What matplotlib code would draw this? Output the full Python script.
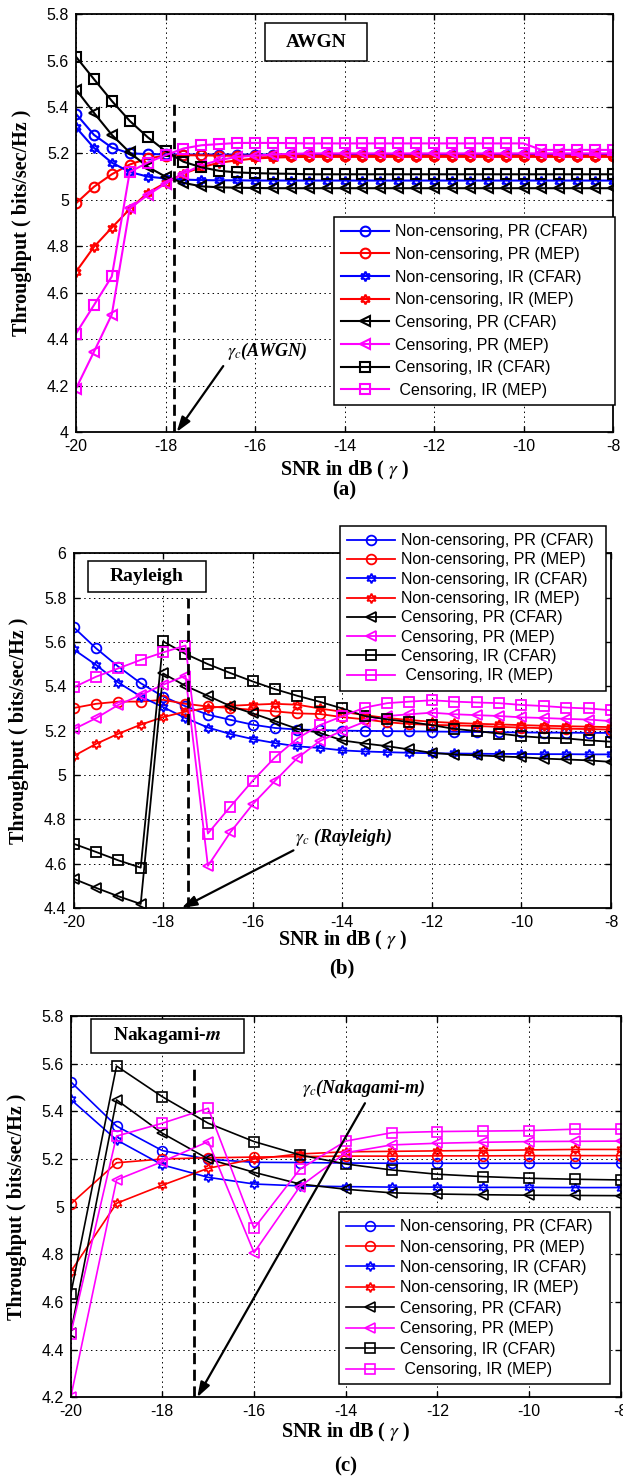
import numpy as np
import matplotlib
matplotlib.use('Agg')
import matplotlib.pyplot as plt
from matplotlib.patches import Rectangle
from matplotlib.ticker import FuncFormatter, MultipleLocator

plt.rcParams['font.family'] = ['Liberation Sans', 'DejaVu Sans']
plt.rcParams['mathtext.fontset'] = 'stix'

# ---- data -------------------------------------------------------------
labels = ['Non-censoring, PR (CFAR)', 'Non-censoring, PR (MEP)',
          'Non-censoring, IR (CFAR)', 'Non-censoring, IR (MEP)',
          'Censoring, PR (CFAR)', 'Censoring, PR (MEP)',
          'Censoring, IR (CFAR)', ' Censoring, IR (MEP)']

# (a) AWGN, SNR step 0.4 dB
snr_a = np.round(np.arange(-20, -7.99, 0.4), 1)
a_nc_pr_cfar = [5.37, 5.28, 5.225, 5.20, 5.197, 5.196, 5.195, 5.195, 5.195, 5.195, 5.195,
                5.195, 5.195, 5.195, 5.195, 5.195, 5.195, 5.195, 5.195, 5.195, 5.195,
                5.195, 5.195, 5.195, 5.195, 5.195, 5.195, 5.195, 5.195, 5.195, 5.195]
a_nc_pr_mep = [4.985, 5.056, 5.11, 5.152, 5.178, 5.19, 5.192, 5.192, 5.19, 5.19, 5.19,
               5.19, 5.19, 5.19, 5.19, 5.19, 5.19, 5.19, 5.19, 5.19, 5.19,
               5.19, 5.19, 5.19, 5.19, 5.19, 5.19, 5.19, 5.19, 5.19, 5.19]
a_nc_ir_cfar = [5.312, 5.224, 5.16, 5.12, 5.10, 5.092, 5.087, 5.085, 5.084, 5.084, 5.083,
                5.083, 5.083, 5.083, 5.083, 5.083, 5.083, 5.083, 5.083, 5.083, 5.083,
                5.083, 5.083, 5.083, 5.083, 5.083, 5.083, 5.083, 5.083, 5.083, 5.083]
a_nc_ir_mep = [4.69, 4.797, 4.88, 4.96, 5.03, 5.073, 5.113, 5.14, 5.16, 5.17, 5.178,
               5.182, 5.184, 5.185, 5.185, 5.185, 5.185, 5.185, 5.185, 5.185, 5.185,
               5.185, 5.185, 5.185, 5.185, 5.185, 5.185, 5.185, 5.185, 5.185, 5.185]
a_c_pr_cfar = [5.475, 5.375, 5.28, 5.204, 5.142, 5.10, 5.073, 5.058, 5.054, 5.052, 5.051,
               5.05, 5.05, 5.05, 5.05, 5.05, 5.05, 5.05, 5.05, 5.05, 5.05,
               5.05, 5.05, 5.05, 5.05, 5.05, 5.05, 5.05, 5.05, 5.05, 5.05]
a_c_pr_mep = [4.187, 4.345, 4.506, 4.963, 5.02, 5.07, 5.113, 5.149, 5.171, 5.185, 5.19,
              5.195, 5.198, 5.2, 5.2, 5.2, 5.2, 5.2, 5.2, 5.2, 5.2,
              5.2, 5.2, 5.2, 5.2, 5.2, 5.2, 5.2, 5.2, 5.2, 5.2]
a_c_ir_cfar = [5.616, 5.52, 5.426, 5.34, 5.27, 5.21, 5.164, 5.14, 5.125, 5.118, 5.115,
               5.113, 5.112, 5.11, 5.11, 5.11, 5.11, 5.11, 5.11, 5.11, 5.11,
               5.11, 5.11, 5.11, 5.11, 5.11, 5.11, 5.11, 5.11, 5.11, 5.11]
a_c_ir_mep = [4.424, 4.546, 4.67, 5.12, 5.16, 5.192, 5.221, 5.235, 5.24, 5.245, 5.245,
              5.245, 5.244, 5.243, 5.243, 5.243, 5.243, 5.243, 5.243, 5.243, 5.243,
              5.243, 5.243, 5.243, 5.243, 5.243, 5.215, 5.215, 5.215, 5.215, 5.215]

# (b) Rayleigh, SNR step 0.5 dB
snr_b = np.arange(-20, -7.99, 0.5)
b_nc_pr_cfar = [5.667, 5.572, 5.489, 5.414, 5.354, 5.31, 5.272, 5.249, 5.227, 5.212, 5.205,
                5.203, 5.2, 5.199, 5.198, 5.197, 5.196, 5.195, 5.194, 5.193, 5.192,
                5.191, 5.191, 5.19, 5.19]
b_nc_pr_mep = [5.302, 5.321, 5.331, 5.331, 5.339, 5.321, 5.309, 5.302, 5.294, 5.287, 5.278,
               5.275, 5.261, 5.251, 5.238, 5.23, 5.226, 5.224, 5.221, 5.217, 5.214,
               5.211, 5.209, 5.207, 5.205]
b_nc_ir_cfar = [5.567, 5.497, 5.417, 5.354, 5.306, 5.257, 5.214, 5.185, 5.162, 5.144, 5.129,
                5.122, 5.111, 5.106, 5.103, 5.1, 5.098, 5.097, 5.096, 5.095, 5.095,
                5.094, 5.094, 5.093, 5.093]
b_nc_ir_mep = [5.085, 5.14, 5.186, 5.227, 5.261, 5.286, 5.302, 5.312, 5.317, 5.321, 5.317,
               5.30, 5.285, 5.27, 5.257, 5.248, 5.24, 5.235, 5.231, 5.228, 5.225,
               5.222, 5.22, 5.218, 5.216]
b_c_pr_cfar = [4.532, 4.491, 4.453, 4.418, 5.458, 5.402, 5.357, 5.311, 5.278, 5.243, 5.208,
               5.19, 5.156, 5.142, 5.13, 5.115, 5.1, 5.092, 5.089, 5.084, 5.08,
               5.074, 5.07, 5.066, 5.059]
b_c_pr_mep = [5.206, 5.256, 5.316, 5.361, 5.407, 5.448, 4.59, 4.741, 4.868, 4.974, 5.077,
              5.153, 5.2, 5.24, 5.266, 5.274, 5.281, 5.274, 5.27, 5.266, 5.26,
              5.257, 5.253, 5.25, 5.243]
b_c_ir_cfar = [4.69, 4.653, 4.615, 4.582, 5.603, 5.546, 5.5, 5.46, 5.422, 5.387, 5.357,
               5.33, 5.3, 5.266, 5.251, 5.239, 5.225, 5.208, 5.198, 5.187, 5.175,
               5.168, 5.165, 5.156, 5.15]
b_c_ir_mep = [5.395, 5.443, 5.481, 5.519, 5.553, 5.584, 4.736, 4.857, 4.974, 5.08, 5.165,
              5.225, 5.265, 5.304, 5.324, 5.331, 5.337, 5.331, 5.327, 5.324, 5.316,
              5.311, 5.304, 5.3, 5.292]

# (c) Nakagami-m, SNR step 1 dB
snr_c = np.arange(-20, -7, 1)
c_nc_pr_cfar = [5.524, 5.338, 5.235, 5.199, 5.186, 5.185, 5.183, 5.182, 5.182, 5.182, 5.182, 5.182, 5.182]
c_nc_pr_mep = [5.011, 5.184, 5.2, 5.205, 5.208, 5.21, 5.212, 5.212, 5.213, 5.213, 5.214, 5.214, 5.214]
c_nc_ir_cfar = [5.45, 5.28, 5.175, 5.123, 5.095, 5.087, 5.084, 5.082, 5.082, 5.081, 5.081, 5.08, 5.08]
c_nc_ir_mep = [4.727, 5.014, 5.09, 5.161, 5.2, 5.221, 5.23, 5.232, 5.234, 5.236, 5.238, 5.24, 5.24]
c_c_pr_cfar = [4.47, 5.448, 5.308, 5.2, 5.144, 5.095, 5.073, 5.058, 5.053, 5.05, 5.048, 5.047, 5.046]
c_c_pr_mep = [4.2, 5.112, 5.189, 5.273, 4.807, 5.084, 5.226, 5.259, 5.266, 5.27, 5.273, 5.274, 5.275]
c_c_ir_cfar = [4.632, 5.59, 5.461, 5.35, 5.273, 5.217, 5.179, 5.154, 5.136, 5.126, 5.119, 5.115, 5.112]
c_c_ir_mep = [4.466, 5.296, 5.35, 5.413, 4.909, 5.157, 5.275, 5.31, 5.315, 5.317, 5.319, 5.325, 5.325]

# critical SNR (gamma_c) for each channel
gamma_c = {'a': -17.8, 'b': -17.45, 'c': -17.3}

# ---- style ------------------------------------------------------------
colors = ['#0000ff', '#ff0000', '#0000ff', '#ff0000', 'k', '#ff00ff', 'k', '#ff00ff']
markers = ['o', 'o', (6, 1, 0), (6, 1, 0), '<', '<', 's', 's']

fig = plt.figure(figsize=(6.23, 14.81), dpi=100)

panels = [
    dict(key='a', rect=[0.122, 0.7083, 0.862, 0.2822], x=snr_a,
         ys=[a_nc_pr_cfar, a_nc_pr_mep, a_nc_ir_cfar, a_nc_ir_mep,
             a_c_pr_cfar, a_c_pr_mep, a_c_ir_cfar, a_c_ir_mep],
         ylim=(4.0, 5.8), lw=1.5, ms=7, dash_top=5.435,
         box=(0.352, 0.888, 0.19, 0.09), box_text='AWGN',
         ann_text=r'$\gamma_c$(AWGN)', ann_tip=(-17.75, 4.0), ann_from=(-16.71, 4.284),
         ann_txt_xy=(-16.63, 4.345),
         leg=(334 / 623, 1 - 405 / 1481, 281 / 623, 188 / 1481), lsp=0.48,
         xlab_y=-0.091, ylab_x=-0.1006, cap='(a)', cap_y=1 - 490 / 1481),
    dict(key='b', rect=[0.118, 0.3869, 0.8628, 0.2395], x=snr_b,
         ys=[b_nc_pr_cfar, b_nc_pr_mep, b_nc_ir_cfar, b_nc_ir_mep,
             b_c_pr_cfar, b_c_pr_mep, b_c_ir_cfar, b_c_ir_mep],
         ylim=(4.4, 6.0), lw=1.3, ms=7, dash_top=5.8,
         box=(0.027, 0.891, 0.2195, 0.087), box_text='Rayleigh',
         ann_text=r'$\gamma_c$ (Rayleigh)', ann_tip=(-17.585, 4.4), ann_from=(-15.09, 4.66),
         ann_txt_xy=(-15.05, 4.72),
         leg=(340 / 623, 1 - 683 / 1481, 266 / 623, 157 / 1481), lsp=0.27,
         xlab_y=-0.0902, ylab_x=-0.1014, cap='(b)', cap_y=1 - 968 / 1481),
    dict(key='c', rect=[0.1135, 0.0565, 0.8828, 0.2575], x=snr_c,
         ys=[c_nc_pr_cfar, c_nc_pr_mep, c_nc_ir_cfar, c_nc_ir_mep,
             c_c_pr_cfar, c_c_pr_mep, c_c_ir_cfar, c_c_ir_mep],
         ylim=(4.2, 5.8), lw=1.2, ms=7, dash_top=5.6,
         box=(0.036, 0.904, 0.279, 0.088), box_text=r'Nakagami-$\mathbfit{m}$',
         ann_text=r'$\gamma_c$(Nakagami-m)', ann_tip=(-17.24, 4.2), ann_from=(-13.58, 5.434),
         ann_txt_xy=(-14.96, 5.498),
         leg=(339 / 623, 1 - 1384 / 1481, 271 / 623, 172 / 1481), lsp=0.34,
         xlab_y=-0.091, ylab_x=-0.0976, cap='(c)', cap_y=1 - 1466 / 1481),
]

serif = 'Liberation Serif'

for p in panels:
    ax = fig.add_axes(p['rect'])
    for y, c, m, lab in zip(p['ys'], colors, markers, labels):
        ax.plot(p['x'], y, color=c, marker=m, ms=p['ms'], mfc='none', mec=c,
                mew=p['lw'], lw=p['lw'], label=lab)

    ax.set_xlim(-20, -8)
    ax.set_ylim(*p['ylim'])
    ax.xaxis.set_major_locator(MultipleLocator(2))
    ax.yaxis.set_major_locator(MultipleLocator(0.2))
    ax.xaxis.set_major_formatter(FuncFormatter(lambda v, pos: '%g' % round(v, 2)))
    ax.yaxis.set_major_formatter(FuncFormatter(lambda v, pos: '%g' % round(v, 2)))
    ax.tick_params(direction='in', length=4, width=1, top=True, right=True,
                   labelsize=11.5, pad=5)
    ax.grid(True, color='k', linestyle=(0, (1.5, 3.5)), linewidth=0.7)
    for s in ax.spines.values():
        s.set_linewidth(1.3)

    # critical SNR marker
    xc = gamma_c[p['key']]
    ax.plot([xc, xc], [p['ylim'][0], p['dash_top']], color='k', lw=2,
            linestyle=(0, (4, 2)))

    # channel name box
    bx, by, bw, bh = p['box']
    ax.add_patch(Rectangle((bx, by), bw, bh, transform=ax.transAxes,
                           facecolor='white', edgecolor='k', lw=1.1, zorder=5))
    ax.text(bx + bw / 2, by + bh / 2, p['box_text'], transform=ax.transAxes,
            ha='center', va='center', fontsize=14, fontweight='bold',
            family=serif, zorder=6)

    # gamma_c annotation
    ax.annotate('', xy=p['ann_tip'], xytext=p['ann_from'],
                arrowprops=dict(arrowstyle='-|>,head_length=0.9,head_width=0.3',
                                color='k', lw=1.6, shrinkA=0, shrinkB=0))
    ax.text(p['ann_txt_xy'][0], p['ann_txt_xy'][1], p['ann_text'], ha='left',
            va='center', fontsize=13, fontweight='bold', fontstyle='italic',
            family=serif)

    leg = ax.legend(loc='upper left', bbox_to_anchor=p['leg'],
                    bbox_transform=fig.transFigure, mode='expand',
                    fontsize=11.5, handlelength=3.0, handletextpad=0.4,
                    labelspacing=p['lsp'], borderpad=0.45, borderaxespad=0,
                    fancybox=False, framealpha=1, edgecolor='k', numpoints=1)
    leg.get_frame().set_linewidth(1.1)

    ax.set_xlabel(r'SNR in dB ( $\gamma$ )', fontsize=14.5, fontweight='bold',
                  family=serif, va='center')
    ax.xaxis.set_label_coords(0.5, p['xlab_y'])
    ax.set_ylabel('Throughput ( bits/sec/Hz )', fontsize=14.5, fontweight='bold',
                  family=serif, va='center')
    ax.yaxis.set_label_coords(p['ylab_x'], 0.5)

    pos = ax.get_position()
    fig.text(pos.x0 + pos.width / 2, p['cap_y'], p['cap'], ha='center', va='center',
             fontsize=15, fontweight='bold', family=serif)

fig.savefig('out.png', dpi=100)
